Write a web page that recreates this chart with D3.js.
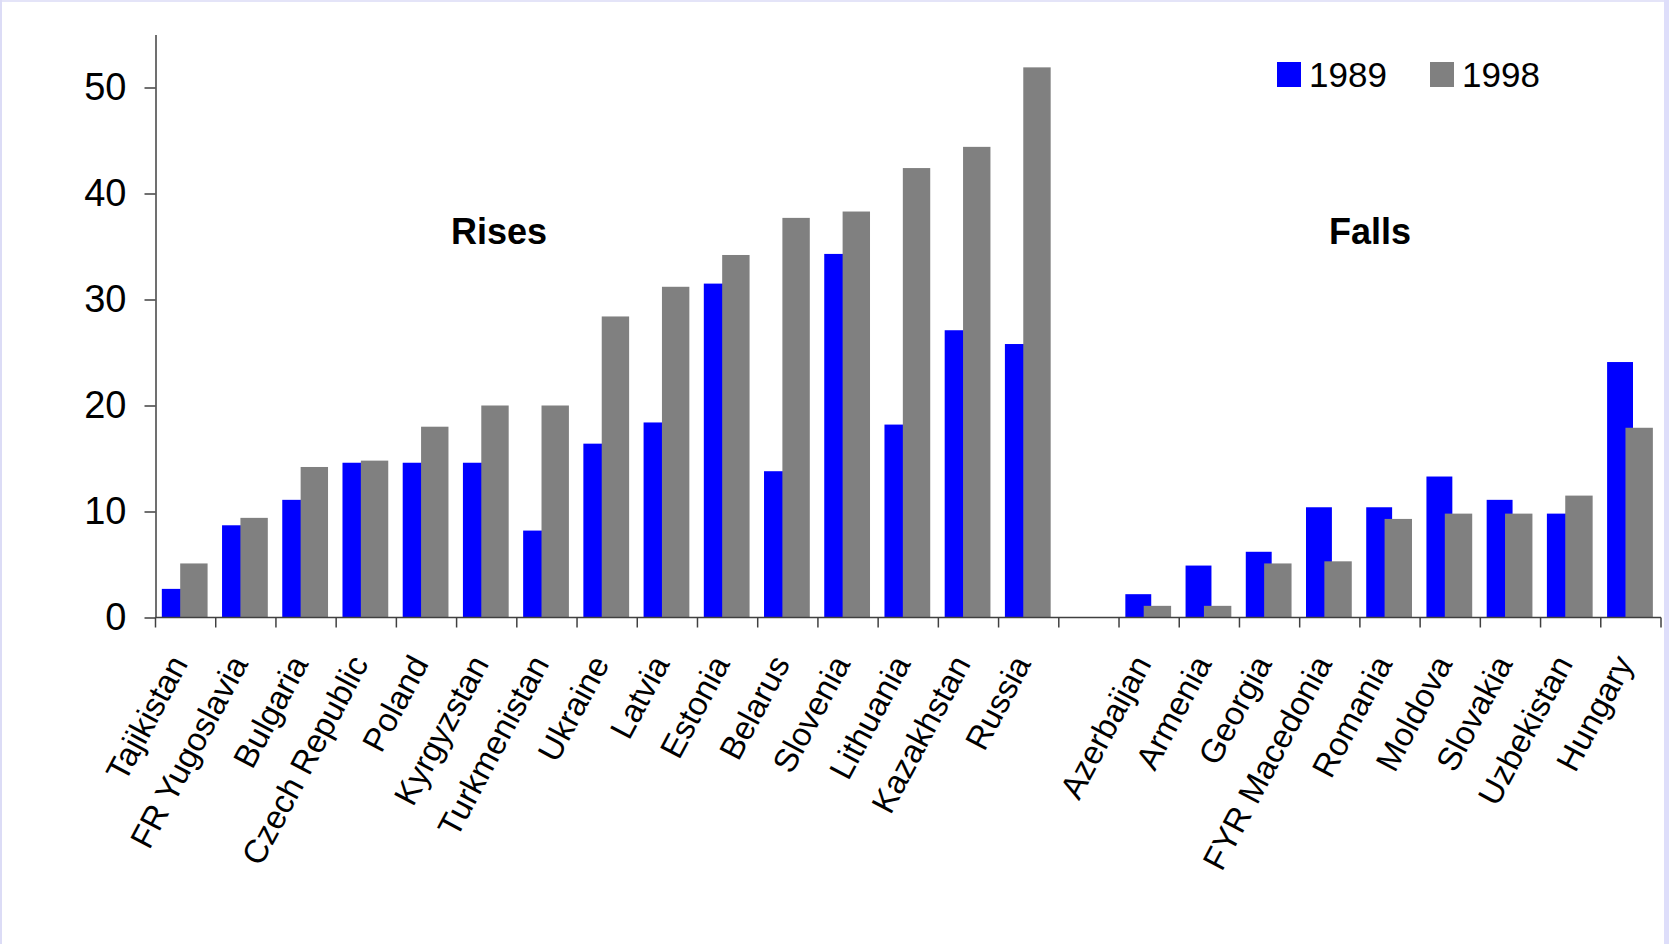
<!DOCTYPE html>
<html>
<head>
<meta charset="utf-8">
<script src="https://cdn.jsdelivr.net/npm/d3@7"></script>
<style>
  html, body { margin: 0; padding: 0; background: #fff; }
  svg { display: block; }
</style>
</head>
<body>
<svg id="chart" width="1669" height="944"></svg>
<script>
// categories, in chart order
var rises = ["Tajikistan", "FR Yugoslavia", "Bulgaria", "Czech Republic", "Poland", "Kyrgyzstan",
  "Turkmenistan", "Ukraine", "Latvia", "Estonia", "Belarus", "Slovenia", "Lithuania", "Kazakhstan", "Russia"]
var falls = ["Azerbaijan", "Armenia", "Georgia", "FYR Macedonia", "Romania", "Moldova", "Slovakia",
  "Uzbekistan", "Hungary"]

var rises1989 = [2.7, 8.7, 11.1, 14.6, 14.6, 14.6, 8.2, 16.4, 18.4, 31.5, 13.8, 34.3, 18.2, 27.1, 25.8]
var rises1998 = [5.1, 9.4, 14.2, 14.8, 18.0, 20.0, 20.0, 28.4, 31.2, 34.2, 37.7, 38.3, 42.4, 44.4, 51.9]
var falls1989 = [2.2, 4.9, 6.2, 10.4, 10.4, 13.3, 11.1, 9.8, 24.1]
var falls1998 = [1.1, 1.1, 5.1, 5.3, 9.3, 9.8, 9.8, 11.5, 17.9]

var seriesNames = ["1989", "1998"]
var colors = ["#0000ff", "#808080"]
var yTicks = [0, 10, 20, 30, 40, 50]

// one empty slot between the two groups
var slots = rises.map((d, i) => ({name: d, v1989: rises1989[i], v1998: rises1998[i]}))
  .concat([{name: "", v1989: null, v1998: null}])
  .concat(falls.map((d, i) => ({name: d, v1989: falls1989[i], v1998: falls1998[i]})))

var svg = d3.select("#chart")
var W = 1669, H = 944

// slide frame
svg.append("rect").attr("x", 0).attr("y", 0).attr("width", W).attr("height", 2).attr("fill", "#e4e4f8")
svg.append("rect").attr("x", 0).attr("y", 0).attr("width", 2).attr("height", H).attr("fill", "#dcdcf6")
svg.append("rect").attr("x", W - 5).attr("y", 0).attr("width", 5).attr("height", H).attr("fill", "#dedefa")

var x = d3.scaleBand()
  .domain(d3.range(slots.length))
  .range([155.5, 1661])
  .padding(0)

var y = d3.scaleLinear()
  .domain([0, 55])
  .range([617.5, 34.5])

var bw = x.bandwidth()

// bars: 1989 first, 1998 drawn over it
svg.append("g")
  .attr("fill", colors[0])
.selectAll("rect")
.data(slots.filter(d => d.v1989 != null))
.join("rect")
  .attr("x", d => x(slots.indexOf(d)) + bw * 0.105)
  .attr("y", d => y(d.v1989))
  .attr("width", bw * 0.43)
  .attr("height", d => y(0) - y(d.v1989))

svg.append("g")
  .attr("fill", colors[1])
.selectAll("rect")
.data(slots.filter(d => d.v1998 != null))
.join("rect")
  .attr("x", d => x(slots.indexOf(d)) + bw * 0.41)
  .attr("y", d => y(d.v1998))
  .attr("width", bw * 0.455)
  .attr("height", d => y(0) - y(d.v1998))

// y axis
var yAxis = g => g
  .attr("transform", `translate(${x.range()[0]},0)`)
  .call(d3.axisLeft(y).tickValues(yTicks).tickSize(11).tickSizeOuter(0).tickPadding(18))
  .call(g => g.selectAll("path, line").attr("stroke", "#404040").attr("stroke-width", 1.5))
  .call(g => g.selectAll("text").attr("fill", "#000")
    .style("font", "38px 'Liberation Sans', Arial, sans-serif"))

svg.append("g").call(yAxis)

// x axis with ticks between categories
var xAxisG = svg.append("g")
xAxisG.append("line")
  .attr("x1", x.range()[0]).attr("x2", x.range()[1])
  .attr("y1", y(0)).attr("y2", y(0))
  .attr("stroke", "#404040").attr("stroke-width", 1.5)
xAxisG.selectAll("line.tick")
.data(d3.range(slots.length + 1))
.join("line")
  .attr("class", "tick")
  .attr("x1", i => x.range()[0] + i * x.step())
  .attr("x2", i => x.range()[0] + i * x.step())
  .attr("y1", y(0))
  .attr("y2", y(0) + 10)
  .attr("stroke", "#404040").attr("stroke-width", 1.5)

svg.append("g")
  .attr("text-anchor", "end")
  .style("font", "33px 'Liberation Sans', Arial, sans-serif")
.selectAll("text")
.data(slots.filter(d => d.name != ""))
.join("text")
  .attr("transform", d => `translate(${x(slots.indexOf(d)) + bw / 2 + 3},${y(0) + 46}) rotate(-62)`)
  .text(d => d.name)

// group headings
svg.append("text")
  .attr("x", 499).attr("y", 244)
  .attr("text-anchor", "middle")
  .style("font", "bold 36px 'Liberation Sans', Arial, sans-serif")
  .text("Rises")
svg.append("text")
  .attr("x", 1370).attr("y", 244)
  .attr("text-anchor", "middle")
  .style("font", "bold 36px 'Liberation Sans', Arial, sans-serif")
  .text("Falls")

// legend
var legendX = [1277, 1430]
var legend = svg.append("g")
.selectAll("g")
.data(seriesNames)
.join("g")
  .attr("transform", (d, i) => `translate(${legendX[i]},62)`)
legend.append("rect")
  .attr("width", 24).attr("height", 25)
  .attr("fill", (d, i) => colors[i])
legend.append("text")
  .attr("x", 32).attr("y", 25)
  .style("font", "35px 'Liberation Sans', Arial, sans-serif")
  .text(d => d)
</script>
</body>
</html>
